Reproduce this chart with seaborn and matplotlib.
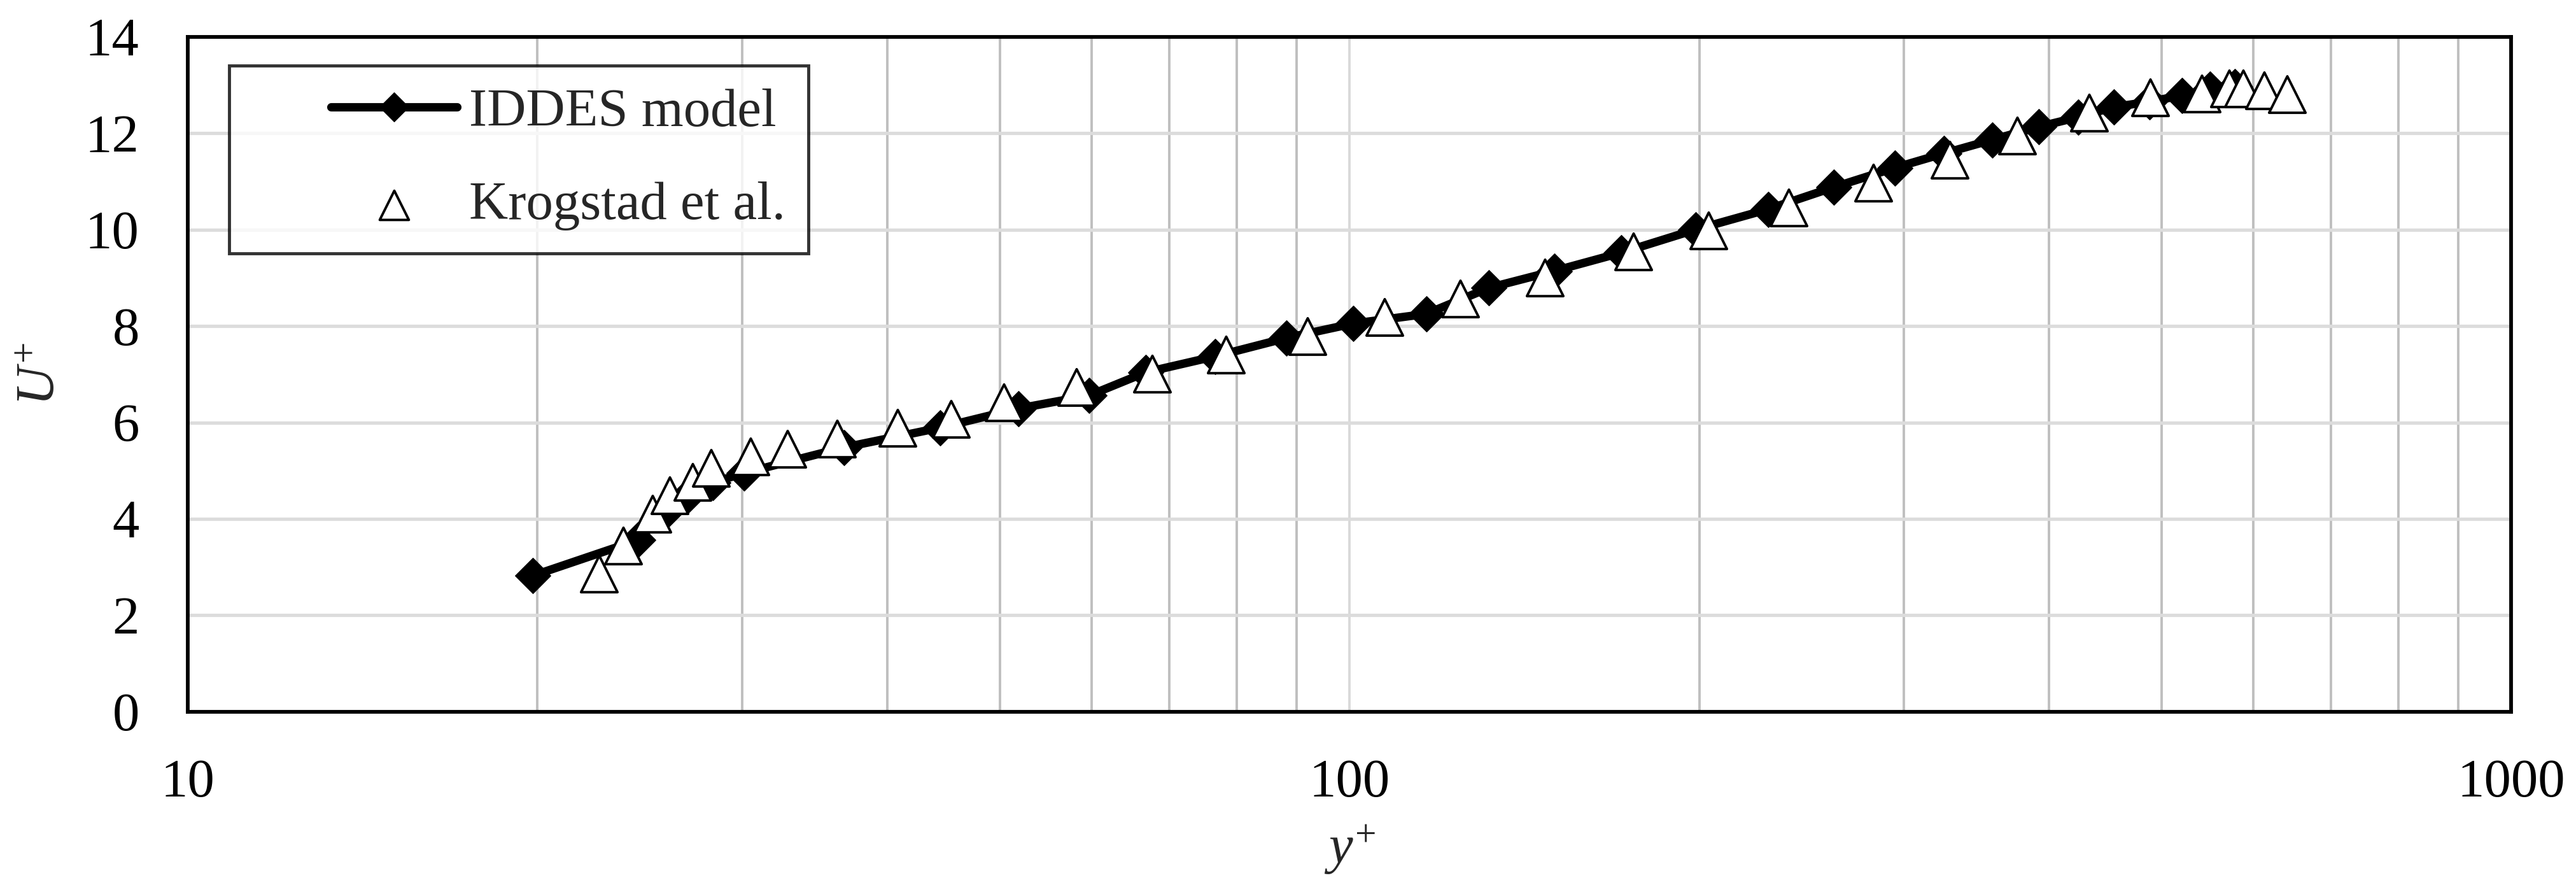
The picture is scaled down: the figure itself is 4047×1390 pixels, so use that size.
import matplotlib
matplotlib.use("Agg")
import matplotlib.pyplot as plt
import seaborn as sns
import pandas as pd
from matplotlib.ticker import FixedLocator, NullFormatter, FixedFormatter
from matplotlib.lines import Line2D
from matplotlib.collections import PathCollection
from matplotlib.legend_handler import HandlerLine2D, HandlerPathCollection

# ---- data ----
iddes_yplus = [19.8, 24.4, 25.8, 27.0, 28.3, 30.1, 36.7, 44.4, 51.9, 59.7, 66.8,
               76.6, 88.2, 100.7, 116.4, 131.8, 150.0, 171.4, 198.6, 229.2, 261.3,
               294.7, 325.0, 357.4, 391.9, 423.7, 454.9, 488.0, 520.5, 550.6, 578.0]
iddes_uplus = [2.82, 3.56, 4.15, 4.50, 4.75, 4.95, 5.48, 5.89, 6.29, 6.56, 7.04,
               7.37, 7.75, 8.05, 8.25, 8.79, 9.14, 9.52, 10.00, 10.42, 10.88,
               11.28, 11.58, 11.86, 12.13, 12.33, 12.54, 12.65, 12.78, 12.91, 12.97]

krog_yplus = [22.6, 23.7, 25.1, 26.0, 27.2, 28.2, 30.5, 32.8, 36.2, 40.8, 45.4,
              50.4, 58.2, 67.6, 78.3, 92.0, 107.2, 124.6, 147.3, 175.4, 203.7,
              238.7, 282.5, 328.6, 375.8, 433.0, 488.9, 541.6, 572.0, 588.0, 612.4, 640.9]
krog_uplus = [2.86, 3.45, 4.11, 4.49, 4.77, 5.06, 5.30, 5.45, 5.66, 5.89, 6.07,
              6.42, 6.73, 7.01, 7.40, 7.79, 8.18, 8.57, 9.01, 9.55, 9.98,
              10.46, 10.97, 11.44, 11.95, 12.42, 12.74, 12.82, 12.93, 12.93, 12.89, 12.81]

x_major = [10, 100, 1000]
x_major_labels = ["10", "100", "1000"]
y_ticks = [0, 2, 4, 6, 8, 10, 12, 14]

labels = ["IDDES model", "Krogstad et al."]

# ---- style ----
sns.set_theme(style="white")
plt.rcParams['font.family'] = ['Liberation Serif', 'DejaVu Serif']
plt.rcParams['mathtext.fontset'] = 'custom'
plt.rcParams['mathtext.rm'] = 'Liberation Serif'
plt.rcParams['mathtext.it'] = 'Liberation Serif:italic'

FS = 61

fig = plt.figure(figsize=(40.48, 13.90), dpi=100)
L, R, T, B = 0.0729, 0.9746, 0.9586, 0.1957
ax = fig.add_axes([L, B, R - L, T - B])

df_i = pd.DataFrame({"yplus": iddes_yplus, "uplus": iddes_uplus})
df_k = pd.DataFrame({"yplus": krog_yplus, "uplus": krog_uplus})

ax.set_xscale("log")
sns.lineplot(data=df_i, x="yplus", y="uplus", ax=ax, color="black", lw=9.5,
             marker="D", markersize=29, markeredgecolor="black",
             markerfacecolor="black", estimator=None, sort=False, zorder=3)
sns.scatterplot(data=df_k, x="yplus", y="uplus", ax=ax, marker="^", s=1700,
                facecolor="white", edgecolor="black", linewidth=2.8, zorder=4)

ax.set_xlim(10, 1000)
ax.set_ylim(0, 14)

ax.xaxis.set_major_locator(FixedLocator(x_major))
ax.xaxis.set_major_formatter(FixedFormatter(x_major_labels))
minor = [m * d for d in (10, 100) for m in range(2, 10)]
ax.xaxis.set_minor_locator(FixedLocator(minor))
ax.xaxis.set_minor_formatter(NullFormatter())
ax.set_yticks(y_ticks)

ax.grid(False)
for v in minor:
    ax.axvline(v, color="#bfbfbf", lw=2.8, zorder=1)
ax.axvline(100, color="#d9d9d9", lw=2.8, zorder=1)
for yv in y_ticks[1:-1]:
    ax.axhline(yv, color="#dcdcdc", lw=3.8, zorder=1)

ax.tick_params(axis="both", which="both", length=0, labelsize=FS, colors="black")
ax.tick_params(axis="y", pad=55)
ax.tick_params(axis="x", pad=53)

for s in ax.spines.values():
    s.set_color("black")
    s.set_linewidth(4.2)
    s.set_visible(True)

ax.set_xlabel("")
ax.set_ylabel("")
fig.text(0.016, (T + B) / 2, r"$U^{+}$", rotation=90, ha="center", va="center",
         fontsize=FS)
fig.text((L + R) / 2, 0.040, r"$y^{+}$", ha="center", va="center", fontsize=FS)

line_h = ax.lines[0]
scat_h = ax.collections[0]
hmap = {Line2D: HandlerLine2D(xpad=1.47),
        PathCollection: HandlerPathCollection(xpad=1.47)}
leg = ax.legend([line_h, scat_h], labels, loc="upper left",
                bbox_to_anchor=(0.0178, 0.957), borderaxespad=0,
                fontsize=FS, frameon=True, fancybox=False, edgecolor="black",
                handlelength=3.81, handletextpad=0.22, labelspacing=0.81,
                borderpad=0.42, markerscale=0.8, handler_map=hmap)
leg.get_frame().set_linewidth(3.5)
leg.set_zorder(10)

fig.savefig("out.png", dpi=100, facecolor="white")
